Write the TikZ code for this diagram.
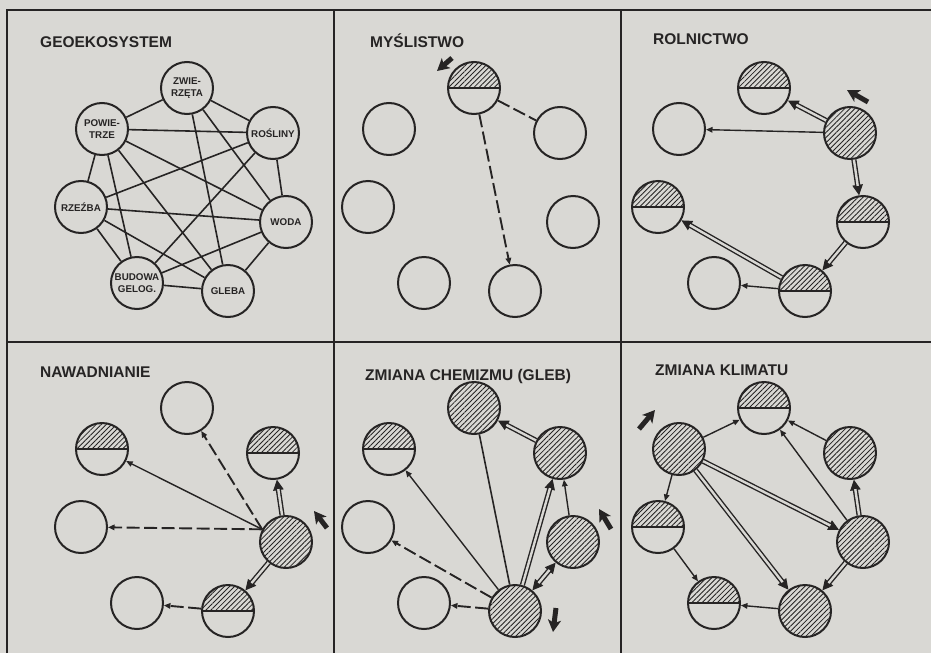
\documentclass[tikz,border=0pt]{standalone}
\usepackage{fontspec}
\setmainfont{Liberation Sans}
\usetikzlibrary{arrows.meta,patterns.meta}
\definecolor{ink}{RGB}{38,36,36}
\definecolor{paper}{RGB}{217,216,212}
\newcommand\sevennodes[8]{%
  \node[#2] (#1zw) at (187,88) {};
  \node[#3] (#1po) at (102,129) {};
  \node[#4] (#1ro) at (273,133) {};
  \node[#5] (#1rz) at (81,207) {};
  \node[#6] (#1wo) at (286,222) {};
  \node[#7] (#1bu) at (137,283) {};
  \node[#8] (#1gl) at (228,291) {};}
\newcommand\dblarrow[2]{\draw[dbltip] (#1) -- (#2); \draw[dblbody] (#1) -- (#2);}
\newcommand\dblboth[2]{\draw[dbltip2] (#1) -- (#2); \draw[dblbody, shorten <=9.5pt] (#1) -- (#2);}
\begin{document}
\begin{tikzpicture}[x=1pt,y=-1pt,
  frame/.style={draw=ink, line width=1.7pt},
  ttl/.style={anchor=base west, inner sep=0pt, text=ink, font=\fontsize{15.5}{18}\selectfont\bfseries},
  lbl/.style={text=ink, align=center, font=\fontsize{9.8}{11.5}\selectfont\bfseries},
  comp/.style={circle, draw=ink, line width=2pt, minimum size=52pt, inner sep=0pt},
  nempty/.style={comp},
  nfull/.style={comp, pattern={Lines[angle=45,distance=3.6pt,line width=0.85pt]}, pattern color=ink},
  nhalf/.style={comp, path picture={
     \fill[pattern={Lines[angle=45,distance=3.6pt,line width=0.85pt]}, pattern color=ink]
        (path picture bounding box.west) rectangle (path picture bounding box.north east);
     \draw[ink, line width=1.5pt] (path picture bounding box.west) -- (path picture bounding box.east);}},
  link/.style={draw=ink, line width=1.6pt},
  tarr/.style={draw=ink, line width=1.4pt, -{Triangle[length=6.5pt,width=5.5pt]}},
  darr/.style={draw=ink, line width=1.9pt, dash pattern=on 13pt off 4.5pt, -{Triangle[length=6.5pt,width=5.5pt]}},
  dline/.style={draw=ink, line width=1.9pt, dash pattern=on 13pt off 4.5pt},
  dbltip/.style={draw=ink, line width=1pt, -{Triangle[length=10.5pt,width=10.5pt]}},
  dbltip2/.style={draw=ink, line width=1pt, {Triangle[length=10.5pt,width=10.5pt]}-{Triangle[length=10.5pt,width=10.5pt]}},
  dblbody/.style={draw=ink, line width=1.4pt, double=paper, double distance=2.4pt, shorten >=9.5pt},
  impact/.style={draw=ink, line width=5pt, -{Stealth[length=12pt,width=13pt,inset=3pt]}}
]
\fill[paper] (0,0) rectangle (931,653);
\useasboundingbox (0,0) rectangle (931,653);
% frame
\draw[frame] (7,653) -- (7,10) -- (931,10);
\draw[frame] (7,342) -- (931,342);
\draw[frame] (334,10) -- (334,653);
\draw[frame] (621,10) -- (621,653);
% titles
\node[ttl] (t1) at (40,47) {GEOEKOSYSTEM};
\node[ttl] (t2) at (370,47) {MYŚLISTWO};
\node[ttl] (t3) at (653,44) {ROLNICTWO};
\node[ttl] (t4) at (40,377) {NAWADNIANIE};
\node[ttl] (t5) at (365,380) {ZMIANA CHEMIZMU (GLEB)};
\node[ttl] (t6) at (655,375) {ZMIANA KLIMATU};
% panel 1
\node[nempty,lbl] (azw) at (187,88) {ZWIE-\\RZĘTA};
\node[nempty,lbl] (apo) at (102,129) {POWIE-\\TRZE};
\node[nempty,lbl] (aro) at (273,133) {ROŚLINY};
\node[nempty,lbl] (arz) at (81,207) {RZEŹBA};
\node[nempty,lbl] (awo) at (286,222) {WODA};
\node[nempty,lbl] (abu) at (137,283) {BUDOWA\\GELOG.};
\node[nempty,lbl] (agl) at (228,291) {GLEBA};
\draw[link] (apo) -- (azw);
\draw[link] (azw) -- (aro);
\draw[link] (apo) -- (aro);
\draw[link] (apo) -- (arz);
\draw[link] (apo) -- (abu);
\draw[link] (apo) -- (agl);
\draw[link] (apo) -- (awo);
\draw[link] (azw) -- (agl);
\draw[link] (azw) -- (awo);
\draw[link] (aro) -- (awo);
\draw[link] (aro) -- (arz);
\draw[link] (aro) -- (abu);
\draw[link] (arz) -- (awo);
\draw[link] (arz) -- (abu);
\draw[link] (arz) -- (agl);
\draw[link] (abu) -- (agl);
\draw[link] (abu) -- (awo);
\draw[link] (agl) -- (awo);
% panel 2
\begin{scope}[shift={(287,0)}]
\sevennodes{b}{nhalf}{nempty}{nempty}{nempty}{nempty}{nempty}{nempty}
\draw[dline] (bzw) -- (bro);
\draw[darr] (bzw) -- (bgl);
\end{scope}
\coordinate (i2a) at (452,58); \coordinate (i2b) at (437,71);
\draw[impact] (i2a) -- (i2b);
% panel 3
\begin{scope}[shift={(577,0)}]
\sevennodes{c}{nhalf}{nempty}{nfull}{nhalf}{nhalf}{nempty}{nhalf}
\dblarrow{cro}{czw}
\draw[tarr] (cro) -- (cpo);
\dblarrow{cro}{cwo}
\dblarrow{cwo}{cgl}
\dblarrow{cgl}{crz}
\draw[tarr] (cgl) -- (cbu);
\end{scope}
\coordinate (i3a) at (868,102); \coordinate (i3b) at (847,90);
\draw[impact] (i3a) -- (i3b);
% panel 4
\begin{scope}[shift={(0,320)}]
\sevennodes{d}{nempty}{nhalf}{nhalf}{nempty}{nfull}{nempty}{nhalf}
\draw[darr] (dwo.152) -- (dzw);
\draw[tarr] (dwo.152) -- (dpo);
\dblarrow{dwo}{dro}
\draw[darr] (dwo.152) -- (drz);
\dblarrow{dwo}{dgl}
\draw[darr] (dgl) -- (dbu);
\end{scope}
\coordinate (i4a) at (327,528); \coordinate (i4b) at (314,511);
\draw[impact] (i4a) -- (i4b);
% panel 5
\begin{scope}[shift={(287,320)}]
\sevennodes{e}{nfull}{nhalf}{nfull}{nempty}{nfull}{nempty}{nfull}
\dblarrow{ero}{ezw}
\draw[link] (egl) -- (ezw);
\draw[tarr] (egl) -- (epo);
\draw[darr] (egl) -- (erz);
\draw[darr] (egl) -- (ebu);
\dblarrow{egl}{ero}
\draw[tarr] (ewo) -- (ero);
\dblboth{egl}{ewo}
\end{scope}
\coordinate (i5a) at (611,529); \coordinate (i5b) at (599,509);
\draw[impact] (i5a) -- (i5b);
\coordinate (i5c) at (556,608); \coordinate (i5d) at (553,632);
\draw[impact] (i5c) -- (i5d);
% panel 6
\begin{scope}[shift={(577,320)}]
\sevennodes{f}{nhalf}{nfull}{nfull}{nhalf}{nfull}{nhalf}{nfull}
\draw[tarr] (fpo) -- (fzw);
\draw[tarr] (fro) -- (fzw);
\draw[tarr] (fwo) -- (fzw);
\draw[tarr] (fpo) -- (frz);
\draw[tarr] (frz) -- (fbu);
\draw[tarr] (fgl) -- (fbu);
\dblarrow{fpo}{fwo}
\dblarrow{fpo}{fgl}
\dblarrow{fwo}{fro}
\dblarrow{fwo}{fgl}
\end{scope}
\coordinate (i6a) at (639,429); \coordinate (i6b) at (655,410);
\draw[impact] (i6a) -- (i6b);
\end{tikzpicture}
\end{document}
